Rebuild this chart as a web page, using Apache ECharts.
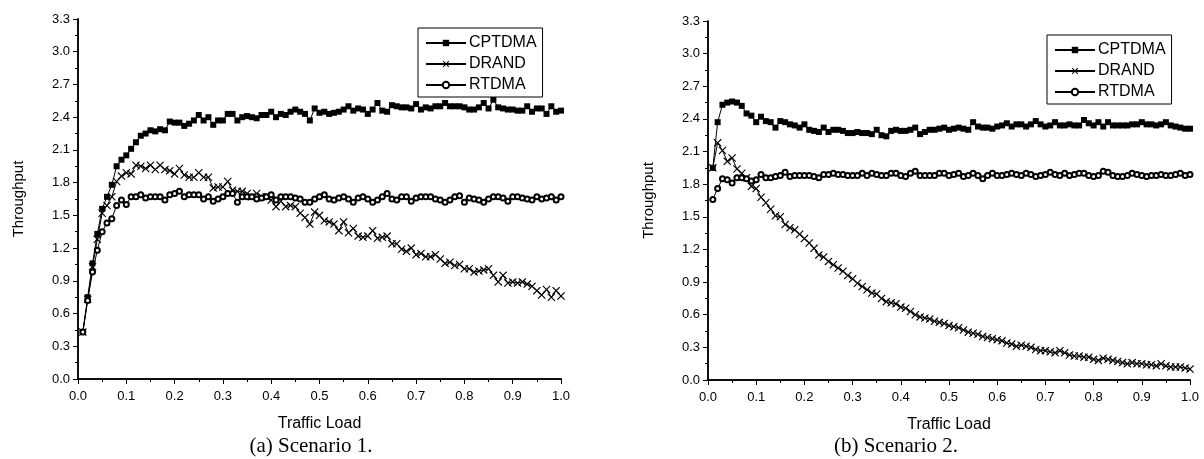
<!DOCTYPE html>
<html lang="en">
  <head>
    <meta charset="UTF-8" />
    <title>Throughput vs Traffic Load</title>
    <style>
      * {
        margin: 0;
        padding: 0;
      }
      html,
      body {
        width: 100%;
        height: 100%;
        background: #fff;
      }
      #chart {
        width: 1204px;
        height: 459px;
      }
    </style>
    <script src="https://cdn.jsdelivr.net/npm/echarts@6/dist/echarts.min.js"></script>
  </head>
  <body>
    <div id="chart"></div>
    <script>
      // traffic load steps (x)
      var loads = [
        0.01, 0.02, 0.03, 0.04, 0.05, 0.06, 0.07, 0.08, 0.09, 0.1,
        0.11, 0.12, 0.13, 0.14, 0.15, 0.16, 0.17, 0.18, 0.19, 0.2,
        0.21, 0.22, 0.23, 0.24, 0.25, 0.26, 0.27, 0.28, 0.29, 0.3,
        0.31, 0.32, 0.33, 0.34, 0.35, 0.36, 0.37, 0.38, 0.39, 0.4,
        0.41, 0.42, 0.43, 0.44, 0.45, 0.46, 0.47, 0.48, 0.49, 0.5,
        0.51, 0.52, 0.53, 0.54, 0.55, 0.56, 0.57, 0.58, 0.59, 0.6,
        0.61, 0.62, 0.63, 0.64, 0.65, 0.66, 0.67, 0.68, 0.69, 0.7,
        0.71, 0.72, 0.73, 0.74, 0.75, 0.76, 0.77, 0.78, 0.79, 0.8,
        0.81, 0.82, 0.83, 0.84, 0.85, 0.86, 0.87, 0.88, 0.89, 0.9,
        0.91, 0.92, 0.93, 0.94, 0.95, 0.96, 0.97, 0.98, 0.99, 1.0
      ];

      // Scenario 1
      var cptdma1 = [
        0.43, 0.75, 1.06, 1.33, 1.56, 1.67, 1.78, 1.95, 2.01, 2.05,
        2.11, 2.17, 2.23, 2.25, 2.28, 2.27, 2.29, 2.28,
        2.36, 2.35, 2.35, 2.32, 2.34, 2.37, 2.42, 2.37, 2.40, 2.33,
        2.37, 2.37, 2.43, 2.43, 2.37, 2.40, 2.41, 2.40, 2.39, 2.42,
        2.42, 2.45, 2.40, 2.43, 2.42, 2.45, 2.47, 2.45, 2.43, 2.37, 2.48,
        2.44, 2.45, 2.43, 2.44, 2.45, 2.47, 2.50, 2.46, 2.48, 2.47,
        2.43, 2.47, 2.53, 2.46, 2.45, 2.51, 2.50, 2.49, 2.49, 2.48,
        2.52, 2.47, 2.49, 2.48, 2.50, 2.50, 2.53, 2.50, 2.50, 2.50,
        2.49, 2.47, 2.47, 2.49, 2.53, 2.48, 2.56, 2.49, 2.48, 2.47,
        2.47, 2.46, 2.46, 2.50, 2.45, 2.48, 2.48, 2.43, 2.50, 2.45, 2.46
      ];
      var drand1 = [
        0.43, 0.73, 1.03, 1.28,
        1.52, 1.59, 1.67, 1.81, 1.86, 1.89, 1.88, 1.96, 1.95, 1.93,
        1.96, 1.92, 1.96, 1.92, 1.91, 1.88, 1.93, 1.87, 1.85, 1.85,
        1.89, 1.85, 1.85, 1.75, 1.76, 1.76, 1.81, 1.73, 1.72, 1.72,
        1.70, 1.67, 1.70, 1.67, 1.67, 1.64, 1.58, 1.63, 1.58, 1.59,
        1.58, 1.52, 1.48, 1.42, 1.53,
        1.50, 1.45, 1.44, 1.42, 1.36, 1.44, 1.34, 1.38, 1.31, 1.30,
        1.31, 1.36, 1.29, 1.30, 1.31, 1.24, 1.24, 1.19, 1.17, 1.20,
        1.14, 1.15, 1.12, 1.12, 1.14, 1.10, 1.06, 1.07, 1.04, 1.05,
        1.01, 1.01, 0.98, 0.99, 1.00, 1.01, 0.95, 0.89, 0.95, 0.88,
        0.89, 0.88, 0.89, 0.87, 0.85, 0.81, 0.77, 0.82, 0.75, 0.81, 0.76
      ];
      var rtdma1 = [
        0.43, 0.72, 0.98, 1.18, 1.35, 1.43, 1.47, 1.59, 1.64, 1.60,
        1.67, 1.67,
        1.69, 1.66, 1.67, 1.67, 1.67, 1.64, 1.69, 1.70, 1.72, 1.67,
        1.69, 1.69, 1.69, 1.65, 1.67, 1.63, 1.65, 1.67, 1.70, 1.70,
        1.62, 1.67, 1.67, 1.67, 1.65, 1.66, 1.67, 1.69, 1.64, 1.67,
        1.67, 1.67, 1.66, 1.65, 1.62, 1.62, 1.65,
        1.67, 1.69, 1.65, 1.64, 1.66, 1.67, 1.65, 1.62, 1.66, 1.67,
        1.65, 1.62, 1.64, 1.67, 1.70, 1.65, 1.64, 1.67, 1.67, 1.63,
        1.66, 1.67, 1.67, 1.67, 1.65, 1.64, 1.62, 1.64, 1.67, 1.68,
        1.62, 1.66, 1.65, 1.64, 1.62, 1.65, 1.67, 1.67, 1.66, 1.63,
        1.67, 1.67, 1.66, 1.65, 1.64, 1.67, 1.65, 1.66, 1.67, 1.64, 1.67
      ];

      // Scenario 2
      var cptdma2 = [
        1.95, 2.37, 2.53, 2.55, 2.56, 2.55, 2.52, 2.45, 2.43, 2.37,
        2.42, 2.38, 2.37, 2.32, 2.38, 2.37, 2.35, 2.34, 2.32, 2.35,
        2.30, 2.29, 2.28, 2.32, 2.28, 2.30, 2.30, 2.29, 2.27, 2.27,
        2.28, 2.27, 2.27, 2.26, 2.30, 2.25, 2.24, 2.29, 2.30, 2.29,
        2.29, 2.30, 2.32, 2.26, 2.28, 2.30, 2.30, 2.31, 2.32,
        2.30, 2.31, 2.32, 2.31, 2.30, 2.37, 2.33, 2.32, 2.32, 2.31,
        2.33, 2.34, 2.36, 2.33, 2.35, 2.35, 2.33, 2.35, 2.38, 2.35,
        2.33, 2.34, 2.37, 2.34, 2.34, 2.35, 2.34, 2.34, 2.39, 2.36,
        2.34, 2.37, 2.33, 2.37, 2.34, 2.34, 2.34, 2.34, 2.35, 2.35,
        2.37, 2.35, 2.35, 2.34, 2.35, 2.37, 2.34, 2.33, 2.32, 2.31, 2.31
      ];
      var drand2 = [
        1.95,
        2.18, 2.11, 2.01, 2.04, 1.94, 1.90, 1.86, 1.78, 1.76, 1.68,
        1.63, 1.57, 1.51, 1.50, 1.43, 1.40, 1.38, 1.34, 1.30, 1.26,
        1.21, 1.15, 1.13, 1.09, 1.06, 1.03, 1.00, 0.96, 0.93, 0.89,
        0.86, 0.83, 0.80, 0.79, 0.75, 0.72, 0.71, 0.70, 0.67, 0.66,
        0.63, 0.60, 0.58, 0.57, 0.56, 0.54, 0.53, 0.52, 0.50,
        0.49, 0.48, 0.46, 0.44, 0.43, 0.42, 0.40, 0.39, 0.38, 0.37,
        0.36, 0.34, 0.33, 0.31, 0.32, 0.31, 0.30, 0.28, 0.27, 0.27,
        0.26, 0.25, 0.27, 0.25, 0.23, 0.22, 0.22, 0.21, 0.21, 0.19,
        0.18, 0.20, 0.19, 0.18, 0.17, 0.16, 0.15, 0.16, 0.15, 0.15,
        0.14, 0.14, 0.13, 0.15, 0.13, 0.12, 0.12, 0.12, 0.11, 0.10
      ];
      var rtdma2 = [
        1.66, 1.76, 1.85, 1.84, 1.81, 1.86, 1.86, 1.85, 1.83, 1.84,
        1.89, 1.86, 1.86, 1.87, 1.88, 1.91, 1.87, 1.88, 1.88, 1.88,
        1.88, 1.87, 1.86, 1.89, 1.89, 1.90, 1.89, 1.89, 1.88, 1.88,
        1.88, 1.90, 1.88, 1.90, 1.89, 1.88, 1.88, 1.90, 1.90, 1.88,
        1.87, 1.90, 1.92, 1.88, 1.88, 1.88, 1.88, 1.90, 1.90,
        1.88, 1.89, 1.90, 1.87, 1.88, 1.90, 1.88, 1.85, 1.88, 1.90,
        1.88, 1.88, 1.89, 1.90, 1.89, 1.88, 1.90, 1.89, 1.87, 1.88,
        1.89, 1.91, 1.89, 1.88, 1.90, 1.88, 1.89, 1.90, 1.90, 1.88,
        1.87, 1.88, 1.92, 1.91, 1.88, 1.87, 1.87, 1.88, 1.90, 1.89,
        1.88, 1.87, 1.88, 1.88, 1.89, 1.88, 1.88, 1.89, 1.90, 1.88, 1.89
      ];

      var seriesNames = ["CPTDMA", "DRAND", "RTDMA"];

      // x 形标记
      var crossPath =
        "path://M0,1L1,0L5,4L9,0L10,1L6,5L10,9L9,10L5,6L1,10L0,9L4,5Z";
      var symbols = ["rect", crossPath, "emptyCircle"];
      var symbolSizes = [6, 8, 5];

      var font = "Liberation Sans";

      function pairs(ys) {
        return ys.map(function (y, i) {
          return [loads[i], y];
        });
      }

      function makeSeries(values, axisIdx) {
        return values.map(function (ys, k) {
          return {
            name: seriesNames[k],
            type: "line",
            xAxisIndex: axisIdx,
            yAxisIndex: axisIdx,
            symbol: symbols[k],
            symbolSize: symbolSizes[k],
            showAllSymbol: true,
            animation: false,
            lineStyle: { color: "#000", width: 1 },
            itemStyle: { color: "#000", borderWidth: 0.8 },
            data: pairs(ys),
          };
        });
      }

      function labelFmt(v) {
        return v.toFixed(1);
      }

      function bottomAxis(grid) {
        return {
          type: "value",
          gridIndex: grid,
          position: "bottom",
          min: 0,
          max: 1,
          interval: 0.1,
          name: "Traffic Load",
          nameLocation: "middle",
          nameGap: 37,
          nameTextStyle: { fontFamily: font, fontSize: 16, color: "#000" },
          axisLine: { show: true, lineStyle: { color: "#000", width: 1.5 } },
          axisTick: { show: true, length: 5, lineStyle: { color: "#000" } },
          minorTick: { show: true, splitNumber: 2, length: 3, lineStyle: { color: "#000" } },
          axisLabel: { fontFamily: font, fontSize: 13, color: "#000", margin: 11, formatter: labelFmt },
          splitLine: { show: false },
        };
      }

      function topAxis(grid) {
        return {
          type: "value",
          gridIndex: grid,
          position: "top",
          min: 0,
          max: 1,
          interval: 0.1,
          axisLine: { show: true, lineStyle: { color: "#000", width: 1.5 } },
          axisTick: { show: true, inside: true, length: 5, lineStyle: { color: "#000" } },
          axisLabel: { show: false },
          splitLine: { show: false },
        };
      }

      function leftAxis(grid) {
        return {
          type: "value",
          gridIndex: grid,
          position: "left",
          min: 0,
          max: 3.3,
          interval: 0.3,
          name: "Throughput",
          nameLocation: "middle",
          nameGap: 52,
          nameTextStyle: { fontFamily: font, fontSize: 15, color: "#000" },
          axisLine: { show: true, lineStyle: { color: "#000", width: 1.5 } },
          axisTick: { show: true, length: 5, lineStyle: { color: "#000" } },
          minorTick: { show: true, splitNumber: 2, length: 3, lineStyle: { color: "#000" } },
          axisLabel: { fontFamily: font, fontSize: 13, color: "#000", margin: 8, formatter: labelFmt },
          splitLine: { show: false },
        };
      }

      function rightAxis(grid) {
        return {
          type: "value",
          gridIndex: grid,
          position: "right",
          min: 0,
          max: 3.3,
          interval: 0.3,
          axisLine: { show: true, lineStyle: { color: "#000", width: 1.5 } },
          axisTick: { show: true, inside: true, length: 5, lineStyle: { color: "#000" } },
          axisLabel: { show: false },
          splitLine: { show: false },
        };
      }

      function legendAt(left, top) {
        return {
          orient: "vertical",
          left: left,
          top: top,
          data: seriesNames,
          itemWidth: 40,
          itemHeight: 8,
          itemGap: 5,
          padding: [7, 6, 4, 7],
          borderColor: "#000",
          borderWidth: 1,
          backgroundColor: "#fff",
          selectedMode: false,
          textStyle: { fontFamily: font, fontSize: 16, color: "#000", padding: [0, 0, 0, -2] },
        };
      }

      var option = {
        backgroundColor: "#fff",
        animation: false,
        grid: [
          { left: 78, top: 19, width: 483, height: 360 },
          { left: 708, top: 21, width: 482, height: 359 },
        ],
        xAxis: [bottomAxis(0), topAxis(0), bottomAxis(1), topAxis(1)],
        yAxis: [leftAxis(0), rightAxis(0), leftAxis(1), rightAxis(1)],
        legend: [legendAt(418, 28), legendAt(1047, 35)],
        graphic: [
          {
            type: "text",
            x: 311,
            y: 436,
            style: { text: "(a) Scenario 1.", font: "21px 'Liberation Serif'", fill: "#000", textAlign: "center" },
          },
          {
            type: "text",
            x: 896,
            y: 436,
            style: { text: "(b) Scenario 2.", font: "21px 'Liberation Serif'", fill: "#000", textAlign: "center" },
          },
        ],
        series: makeSeries([cptdma1, drand1, rtdma1], 0).concat(
          makeSeries([cptdma2, drand2, rtdma2], 2)
        ),
      };

      var myChart = echarts.init(document.getElementById("chart"));
      myChart.setOption(option);
    </script>
  </body>
</html>
